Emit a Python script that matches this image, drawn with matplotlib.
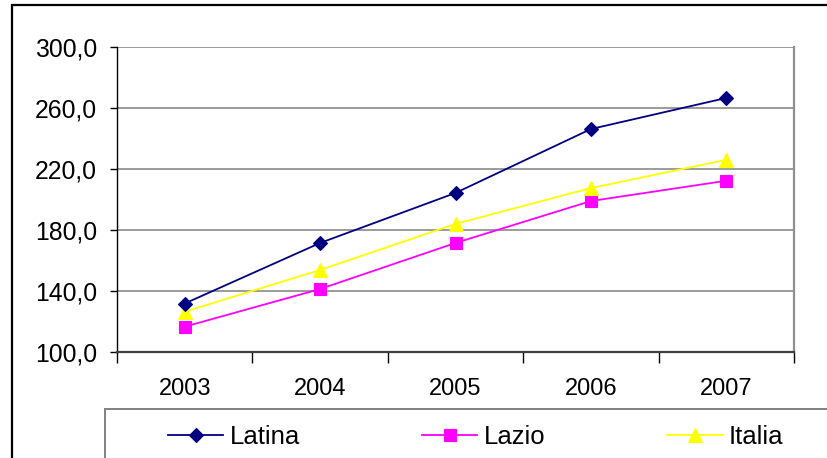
import matplotlib
matplotlib.use("Agg")
import matplotlib.pyplot as plt
from matplotlib.patches import Rectangle
from matplotlib.ticker import FixedLocator, FuncFormatter

plt.rcParams['font.family'] = ['Liberation Sans', 'DejaVu Sans']

years = ["2003", "2004", "2005", "2006", "2007"]
latina = [131.8, 171.5, 204.3, 246.2, 266.6]
lazio = [116.6, 141.3, 171.5, 199.0, 212.3]
italia = [126.4, 153.8, 184.0, 207.5, 226.0]

W, H = 827, 458
fig = plt.figure(figsize=(W / 100, H / 100), dpi=100)
fig.patch.set_facecolor("white")

# outer chart frame (runs past the right/bottom edges)
fig.patches.append(Rectangle((11.5 / W, -0.1), 1.2, 1 - 5.5 / H + 0.1,
                             transform=fig.transFigure, fill=False,
                             edgecolor="black", linewidth=1.6, zorder=0))

left, right, top, bottom = 117, 794, 47, 352
ax = fig.add_axes([left / W, 1 - bottom / H, (right - left) / W, (bottom - top) / H])

x = list(range(len(years)))
ax.plot(x, latina, color="#000080", linewidth=1.3, marker="D", markersize=7.2,
        markeredgewidth=0.8, label="Latina", zorder=4)
ax.plot(x, lazio, color="#FF00FF", linewidth=1.3, marker="s", markersize=8.0,
        markeredgewidth=0.8, label="Lazio", zorder=3)
ax.plot(x, italia, color="#FFFF00", linewidth=1.3, marker="^", markersize=9.8,
        markeredgewidth=0.8, label="Italia", zorder=3)

ax.set_xlim(-0.5, len(years) - 0.5)
ax.set_ylim(100, 300)

# category boundaries as ticks, labels centered on categories
ax.xaxis.set_major_locator(FixedLocator([i - 0.5 for i in range(len(years) + 1)]))
ax.xaxis.set_major_formatter(FuncFormatter(lambda v, p: ""))
ax.xaxis.set_minor_locator(FixedLocator(x))
ax.set_xticks(x, years, minor=True)
ax.tick_params(axis="x", which="major", direction="out", length=8, width=1, color="black")
ax.tick_params(axis="x", which="minor", length=0, pad=19, labelsize=17)

ax.set_yticks([100, 140, 180, 220, 260, 300])
ax.yaxis.set_major_formatter(FuncFormatter(lambda v, p: f"{v:.1f}".replace(".", ",")))
ax.tick_params(axis="y", direction="out", length=5, width=1, color="black",
               pad=9.5, labelsize=17.8)

ax.grid(axis="y", color="#808080", linewidth=1.1)
ax.set_axisbelow(True)

ax.spines["left"].set_color("black")
ax.spines["left"].set_linewidth(1.0)
ax.spines["bottom"].set_color("#404040")
ax.spines["bottom"].set_linewidth(1.6)
ax.spines["right"].set_color("#909090")
ax.spines["right"].set_linewidth(1.6)
ax.spines["top"].set_visible(False)

# legend box (extends beyond the edges)
fig.patches.append(Rectangle((105 / W, -0.1), 1.2, 0.1 + 1 - 409 / H,
                             transform=fig.transFigure, fill=False,
                             edgecolor="#808080", linewidth=1.4, zorder=0))

fig.legend(loc="center left", bbox_to_anchor=(168 / W, 1 - 437 / H), ncol=3,
           frameon=False, fontsize=18.5, handlelength=2.15, handletextpad=0.25,
           columnspacing=4.75, borderpad=0, borderaxespad=0, numpoints=1)

fig.savefig("out.png", dpi=100, facecolor="white")
